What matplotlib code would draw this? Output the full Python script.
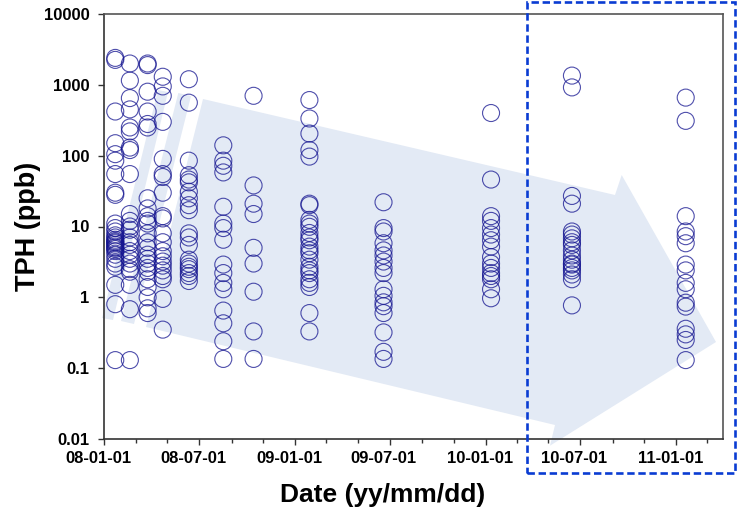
import matplotlib
matplotlib.use("Agg")
import matplotlib.pyplot as plt
import matplotlib.dates as mdates
import matplotlib.transforms as mtransforms
from matplotlib.patches import Polygon, Rectangle
from matplotlib.ticker import NullLocator
import datetime as dt

# ---------------- data ----------------
sample_dates = ["2008-01-22", "2008-02-19", "2008-03-24", "2008-04-22", "2008-06-11",
                "2008-08-16", "2008-10-13", "2009-01-28", "2009-06-19", "2010-01-11",
                "2010-06-15", "2011-01-19"]

tph_c01 = [2400, 2250, 420, 150, 105, 85, 55, 30, 28, 11, 9.5, 8.5, 7.5, 7, 6.5, 6.2, 6,
           5.8, 5.5, 5.2, 5, 4.8, 4.5, 4, 3.5, 3, 2.7, 1.5, 0.8, 0.13]
tph_c02 = [2000, 1150, 650, 450, 250, 220, 130, 120, 55, 15, 12, 10, 9, 7, 6, 5.5, 4.5, 4,
           3.5, 3, 2.5, 2.3, 1.5, 0.68, 0.13]
tph_c03 = [2000, 1900, 800, 420, 280, 250, 25, 18, 14, 12, 11, 8, 6, 5, 4, 3.5, 3, 2.6,
           2.3, 1.8, 1.4, 1.0, 0.7, 0.6]
tph_c04 = [1300, 950, 700, 300, 90, 55, 50, 30, 14, 13, 8, 6, 4.5, 3.8, 3.2, 2.8, 2.4,
           2.0, 1.8, 0.95, 0.35]
tph_c05 = [1200, 560, 85, 53, 46, 42, 31, 25, 20, 17, 8, 7, 5.5, 3.4, 3.0, 2.7, 2.5, 2.2,
           2.0, 1.7]
tph_c06 = [140, 85, 72, 58, 19, 11, 9.5, 6.5, 2.9, 2.2, 1.6, 1.3, 0.65, 0.43, 0.24, 0.135]
tph_c07 = [700, 38, 21, 15, 5.0, 3.0, 1.2, 0.33, 0.135]
tph_c08 = [610, 335, 205, 120, 97, 21, 20, 12.4, 11, 9.9, 8.1, 7, 6.4, 5.2, 4.6, 4.2, 3.4,
           2.7, 2.4, 2.2, 1.8, 1.6, 1.4, 0.6, 0.33]
tph_c09 = [22, 9.5, 8.5, 5.8, 4.6, 3.9, 3.2, 2.6, 2.2, 1.3, 1.05, 0.85, 0.75, 0.6, 0.32,
           0.17, 0.135]
tph_c10 = [400, 46, 14, 12, 9.5, 7.7, 6.4, 5.2, 3.7, 3.0, 2.6, 2.2, 2.0, 1.8, 1.3, 0.97]
tph_c11 = [1350, 920, 27, 21, 8.5, 7.7, 6.8, 6.0, 5.5, 4.6, 3.9, 3.4, 3.0, 2.9, 2.6, 2.4,
           2.1, 1.8, 0.77]
tph_c12 = [660, 310, 14, 8.5, 7.3, 5.8, 2.9, 2.4, 1.6, 1.3, 0.84, 0.74, 0.36, 0.3, 0.25, 0.13]

tph_columns = [tph_c01, tph_c02, tph_c03, tph_c04, tph_c05, tph_c06, tph_c07, tph_c08,
               tph_c09, tph_c10, tph_c11, tph_c12]

x_tick_dates = ["2008-01-01", "2008-07-01", "2009-01-01", "2009-07-01", "2010-01-01",
                "2010-07-01", "2011-01-01"]
x_tick_labels = ["08-01-01", "08-07-01", "09-01-01", "09-07-01", "10-01-01", "10-07-01",
                 "11-01-01"]
y_tick_values = [0.01, 0.1, 1, 10, 100, 1000, 10000]
y_tick_labels = ["0.01", "0.1", "1", "10", "100", "1000", "10000"]

# ---------------- figure ----------------
W, H = 743, 515
fig = plt.figure(figsize=(W / 100, H / 100), dpi=100)
plt.rcParams['font.family'] = ['Liberation Sans', 'DejaVu Sans']

def fx(px):
    return px / W

def fy(py):
    return 1 - py / H

ax = fig.add_axes([fx(104.3), fy(439), fx(723.3) - fx(104.3), fy(14) - fy(439)])

# background striped arrow (figure pixel geometry)
arrow_color = '#e3eaf5'
body = [(203, 99), (615, 195), (621.7, 175), (716, 342), (550, 445.7), (555, 425), (146, 327)]
stripe2 = [(178.3, 93), (191, 96), (134, 324), (121, 321)]
stripe1 = [(158, 90), (168, 92), (113, 320), (102, 318)]
for poly in (body, stripe2, stripe1):
    p = Polygon([(fx(a), fy(b)) for a, b in poly], closed=True, transform=fig.transFigure,
                facecolor=arrow_color, edgecolor='none', zorder=0.5, clip_on=False)
    ax.add_patch(p)

# scatter
for d, vals in zip(sample_dates, tph_columns):
    xd = [mdates.date2num(dt.datetime.strptime(d, "%Y-%m-%d"))] * len(vals)
    ax.scatter(xd, vals, s=150, facecolors='none', edgecolors='#141490', linewidths=0.8,
               alpha=0.75, zorder=3)

ax.set_yscale('log')
ax.set_ylim(0.01, 10000)
ax.set_xlim(mdates.date2num(dt.datetime(2008, 1, 1)), mdates.date2num(dt.datetime(2011, 4, 1)))

ax.set_yticks(y_tick_values)
ax.set_yticklabels(y_tick_labels)
ax.yaxis.set_minor_locator(NullLocator())

ax.set_xticks([mdates.date2num(dt.datetime.strptime(d, "%Y-%m-%d")) for d in x_tick_dates])
ax.set_xticklabels(x_tick_labels)
ax.xaxis.set_minor_locator(mdates.MonthLocator(bymonth=[3, 5, 9, 11]))

ax.tick_params(axis='both', which='major', direction='out', length=4.5, width=1.0,
               color='#333333', labelsize=12, pad=4)
ax.tick_params(axis='y', which='major', pad=6)
ax.tick_params(axis='x', which='minor', direction='out', length=3, width=1.0, color='#333333')

shift = mtransforms.ScaledTranslation(-6 / 100, 0, fig.dpi_scale_trans)
for lab in ax.get_xticklabels():
    lab.set_fontweight('bold')
    lab.set_transform(lab.get_transform() + shift)
for lab in ax.get_yticklabels():
    lab.set_fontweight('bold')

for sp in ax.spines.values():
    sp.set_color('#333333')
    sp.set_linewidth(1.2)
ax.spines['top'].set_color('#555555')
ax.spines['right'].set_color('#555555')

# axis labels
fig.text(fx(383), fy(495), "Date (yy/mm/dd)", ha='center', va='center', fontsize=19,
         fontweight='bold')
fig.text(fx(28), fy(226), "TPH (ppb)", ha='center', va='center', rotation=90, fontsize=19.5,
         fontweight='bold')

# dashed highlight box
rect = Rectangle((fx(526.7), fy(472.7)), fx(735) - fx(526.7), fy(1.5) - fy(472.7),
                 transform=fig.transFigure, fill=False, edgecolor='#0a3cd2', linewidth=1.9,
                 linestyle=(0, (2.8, 1.4)), zorder=10, clip_on=False)
fig.add_artist(rect)

fig.savefig("out.png", dpi=100)
